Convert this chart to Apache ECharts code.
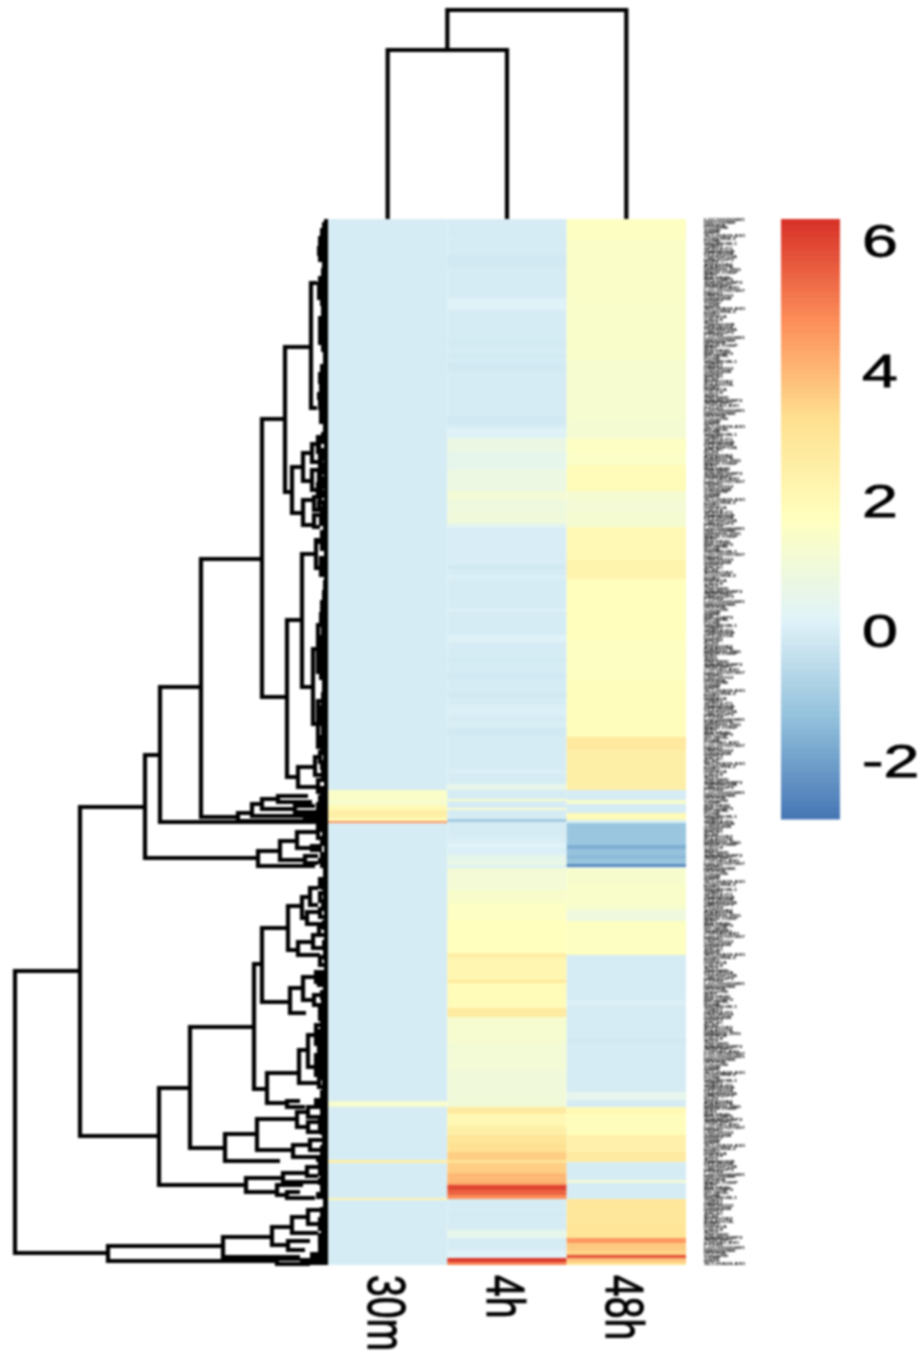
<!DOCTYPE html>
<html>
<head>
<meta charset="utf-8">
<style>
html,body{margin:0;padding:0;background:#fff}
#main{width:921px;height:1357px;filter:blur(0.8px)}
</style>
<script src="https://cdn.jsdelivr.net/npm/echarts@6/dist/echarts.min.js"></script>
</head>
<body>
<div id="main"></div>
<script>
// Columns and legend
const columns = ['30m', '4h', '48h'];
const legendTicks = [-2, 0, 2, 4, 6];
const palette = ['#4575B4', '#91BFDB', '#E0F3F8', '#FFFFBF', '#FEE090', '#FC8D59', '#D73027'];
const valueMin = -2.88, valueMax = 6.34, legendSteps = 100;
const rowSpan = 1046;

// Heatmap values, run-length coded along the clustered row order: [end position, value]
const runs30m = [[571,0],[580,1.5],[586,1.35],[591,2],[599,2.5],[602,1.9],[604,4.6],[882,0],[888,1.3],[941,0],[944,2.5],[979,0],[981,2.3],[1046,0]];
const runs4h = [[14,0],[17,-.05],[36,0],[48,-.1],[79,0],[91,.15],[121,0],[127,-.08],[135,0],[139,-.08],[144,0],[153,-.1],[197,0],[205,-.1],[209,0],[219,.15],[233,.75],[251,.55],[272,.8],[281,1.15],[294,.9],[304,1],[308,.5],[346,.03],[350,-.1],[356,0],[360,.1],[389,0],[393,.1],[416,0],[423,.15],[439,0],[443,-.08],[454,0],[461,-.1],[473,0],[479,-.1],[486,0],[497,.1],[503,0],[509,.05],[517,-.1],[551,0],[554,.1],[565,0],[571,.6],[580,0],[582,1.4],[589,0],[591,1.3],[600,0],[603,-1],[618,0],[624,.05],[628,.2],[636,.1],[644,.55],[646,.9],[649,.1],[671,1.15],[684,1.4],[701,1.6],[734,1.75],[739,2.5],[761,2.2],[764,2.8],[789,1.95],[798,2.75],[824,1.3],[851,1.1],[881,1],[888,1.05],[895,2.7],[907,2.1],[916,2.5],[924,3],[933,3.2],[941,3.6],[944,3],[954,3.6],[963,4],[966,4.3],[971,6],[976,5.5],[980,4.8],[994,0],[997,-.05],[1011,0],[1019,.55],[1031,0],[1039,.15],[1043,6.2],[1046,5]];
const runs48h = [[21,1.65],[81,1.5],[141,1.45],[201,1.3],[219,1.2],[233,1.6],[246,1.55],[272,1.95],[281,1.25],[294,1.15],[308,1.25],[341,2.05],[360,2.3],[421,1.8],[461,1.65],[518,1.85],[531,2.8],[571,2.5],[581,0],[585,1.4],[594,0],[601,2],[604,.05],[626,-1.15],[630,-1.7],[636,-1.25],[640,-1.45],[645,-1.2],[648,-2.4],[649,.05],[666,1.35],[686,1.45],[691,1.35],[702,.9],[736,1.65],[781,0],[786,.1],[819,0],[824,-.1],[873,0],[881,.5],[888,0],[895,2.05],[916,1.85],[933,2.4],[943,2.7],[961,0],[964,1.1],[980,0],[1006,2.9],[1019,3],[1024,4.6],[1031,3.7],[1036,3.5],[1039,5.8],[1043,3.8],[1046,3.2]];

// Row dendrogram merges: [height, top position, bottom position, top child height, bottom child height]
const rowMerges = [
[313,752,1034,248,220],[248,588,917,183,169],[183,536,639,168,70],[168,468,603,127,0],[127,340,598,66,90],
[66,200,478,43,41],[43,128,273,17,36],[17,64,189,11,11],[36,248,294,25,25],[25,234,262,16,16],
[16,225,243,10,8],[16,251,271,8,10],[10,218,233,5,4],[8,236,249,3,3],[8,251,263,4,4],[10,265,277,4,4],
[25,281,306,14,14],[14,278,291,8,6],[14,296,308,8,8],[8,273,284,3,3],[6,289,295,2,2],
[41,401,558,26,30],[26,335,468,12,15],[12,321,349,6,7],[6,313,330,2,2],[7,339,356,3,3],
[15,430,505,10,10],[10,406,453,5,5],[10,482,528,5,5],[30,548,568,13,10],[13,538,556,8,6],[10,561,573,3,3],[8,533,543,3,3],
[90,594,602,76,0],[76,585,597,66,23],[66,580,590,50,33],[50,577,583,20,16],[33,587,593,13,10],[23,595,599,10,8],
[70,632,647,48,13],[48,622,641,31,23],[31,613,629,10,16],[23,637,644,10,10],[10,607,619,3,3],[16,627,631,6,6],
[169,869,966,138,82],[138,808,929,74,103],[74,745,870,66,61],[66,709,783,40,38],[40,687,731,26,30],[26,678,699,18,21],
[18,669,686,10,10],[21,693,705,6,6],[30,723,736,15,8],[15,716,729,6,6],[38,769,794,25,22],[25,758,781,12,14],[12,753,763,4,4],[14,776,786,4,4],
[61,854,884,29,41],[29,831,864,20,8],[20,816,848,12,12],[12,806,825,6,6],[12,836,856,6,6],[41,882,888,28,23],
[103,915,942,71,48],[71,900,931,31,35],[31,893,908,20,18],[35,926,938,18,8],[18,921,931,6,6],[20,903,913,6,6],[20,888,898,8,8],
[82,959,973,45,51],[45,954,963,21,8],[21,948,957,6,10],[51,966,976,25,41],[41,973,979,28,13],
[220,1027,1042,105,51],[105,1018,1038,56,28],[56,1008,1026,36,40],[36,998,1014,20,10],[20,991,1005,8,6],[40,1022,1031,18,23],[51,1040,1045,28,18],
[9,222,231,3,3],[7,240,247,3,3],[9,254,262,3,3],[7,268,276,3,3],[9,283,290,3,3],[7,298,305,3,3],[8,660,668,3,3],[8,674,682,3,3],[8,690,698,3,3],[9,708,716,4,4],[8,738,746,3,3],[9,756,766,3,3],[8,790,800,3,3],[9,812,822,3,3],[9,828,838,3,3],[8,842,852,3,3],[9,858,868,3,3],[8,1000,1010,3,3],[8,1016,1024,3,3],[8,900,910,3,3],[8,945,955,3,3]
];

// Dense leaf fringe of the row dendrogram: [end position, leaf height]
const leafRuns = [[3,4],[9,6],[17,8],[27,10],[37,11],[43,10],[49,6],[57,7],[63,10],[81,11],[87,8],[97,7],[111,10],[126,10],[133,7],[145,5],[153,8],[165,10],[173,9],[181,11],[191,10],[205,9],[213,5],[218,7],[225,7],[231,4],[237,6],[243,4],[251,7],[257,4],[265,6],[271,4],[278,7],[285,4],[291,6],[299,4],[306,5],[313,5],[319,7],[325,10],[331,6],[337,4],[343,7],[349,9],[355,8],[361,4],[371,5],[381,6],[393,8],[406,9],[416,7],[429,8],[441,10],[451,10],[461,9],[473,6],[486,7],[497,8],[507,9],[516,7],[526,9],[536,8],[543,5],[551,8],[559,7],[567,4],[576,8],[583,10],[591,12],[599,10],[603,10],[607,4],[613,8],[619,6],[627,8],[633,4],[639,8],[645,10],[649,8],[661,5],[671,7],[681,5],[691,7],[701,4],[711,6],[721,4],[731,6],[741,5],[751,4],[761,7],[771,5],[781,8],[791,7],[801,6],[811,8],[821,10],[831,8],[841,10],[851,8],[861,9],[871,6],[879,8],[887,14],[896,8],[906,10],[916,8],[926,6],[936,8],[943,12],[951,8],[959,8],[966,10],[973,8],[980,12],[988,5],[996,8],[1006,8],[1016,7],[1026,8],[1033,10],[1039,18],[1043,28],[1046,24]];

// Column dendrogram merges: [height, left position, right position, left child height, right child height]
const columnMerges = [[169,0,1,0,0],[209,0.5,2,169,0]];

// Row labels are illegible in the reference; these stand in for their texture
const rowLabelWords = ['LOC100293481','ATP6V1B2','SLC25A24-AS1','RPL13AP5','ZNF385D','TMEM106B','LINC00152','HIST1H2BK','KIAA0319L','CCDC88A.2','MT-ND4L','ANKRD36BP2','PPP1R15A','GADD45B','NFKBIA','MIR4435-2HG','EGR1','FOSB','SERPINE1','TNFRSF12A','DUSP1','C11orf96','RNU6-1189P','HSPA1A','SNORD3B-1','CYP1B1-AS1','UBE2Q2P2','ARL4C','TXNIP','IER3','CXCL8','THBS1','LOC101927497','PTGS2','KLF6','MAFF','BHLHE40','ATF3','SPRY4-IT1','NR4A1'];
const rowLabelCount = 400;
const rowLabels = [];
for (let i = 0; i < rowLabelCount; i++) rowLabels.push(rowLabelWords[(i * 7 + (i >> 3)) % rowLabelWords.length]);

function heatData() {
  const out = [];
  [runs30m, runs4h, runs48h].forEach((runs, c) => {
    let start = 0;
    runs.forEach(r => { out.push([c, start, r[0], r[1]]); start = r[0]; });
  });
  return out;
}
function leafData() {
  const out = []; let start = 0;
  leafRuns.forEach(r => { out.push([r[1], start, r[0]]); start = r[0]; });
  return out;
}
function legendData() {
  const out = [], step = (valueMax - valueMin) / legendSteps;
  for (let i = 0; i < legendSteps; i++) {
    const lo = valueMin + i * step;
    out.push([0.5, lo, lo + step, lo + step / 2]);
  }
  return out;
}

function bandRect(params, api) {
  const a = api.coord([api.value(0), api.value(1)]);
  const b = api.coord([api.value(0), api.value(2)]);
  const w = api.size([1, 0])[0];
  return { type: 'rect', shape: { x: a[0] - w / 2, y: Math.min(a[1], b[1]), width: w, height: Math.abs(b[1] - a[1]) },
    style: { fill: api.visual('color') } };
}
function rowBracket(params, api) {
  const h = api.value(0), t = api.value(1), b = api.value(2), ht = api.value(3), hb = api.value(4);
  return { type: 'polyline', shape: { points: [api.coord([ht, t]), api.coord([h, t]), api.coord([h, b]), api.coord([hb, b])] },
    style: { stroke: '#000', lineWidth: 4.2, fill: 'none', lineJoin: 'miter' } };
}
function leafRect(params, api) {
  const a = api.coord([api.value(0), api.value(1)]);
  const b = api.coord([0, api.value(2)]);
  return { type: 'rect', shape: { x: a[0], y: a[1], width: b[0] - a[0], height: b[1] - a[1] }, style: { fill: '#000' } };
}
function columnBracket(params, api) {
  const h = api.value(0), l = api.value(1), r = api.value(2), hl = api.value(3), hr = api.value(4);
  return { type: 'polyline', shape: { points: [api.coord([l, hl]), api.coord([l, h]), api.coord([r, h]), api.coord([r, hr])] },
    style: { stroke: '#000', lineWidth: 4.2, fill: 'none', lineJoin: 'miter' } };
}
function legendLabel(params, api) {
  const p = api.coord([1, api.value(1)]);
  return { type: 'text', x: p[0] + 22, y: p[1] + 3, scaleX: 1.4,
    style: { text: String(legendTicks[params.dataIndex]), fontSize: 46, fontFamily: 'Liberation Sans', fill: '#000', stroke: '#000', lineWidth: 0.8, align: 'left', verticalAlign: 'middle' } };
}
function columnLabel(params, api) {
  const p = api.coord([api.value(0), api.value(1)]);
  return { type: 'text', x: p[0] - 5, y: p[1] + 10, rotation: -Math.PI / 2, scaleY: 1.38,
    style: { text: columns[params.dataIndex], fontSize: 39, fontFamily: 'Liberation Sans', fill: '#000', stroke: '#000', lineWidth: 0.8, align: 'left', verticalAlign: 'middle' } };
}
function rowLabel(params, api) {
  const p = api.coord([0, api.value(1)]);
  return { type: 'text', x: p[0], y: p[1], scaleX: 1.6,
    style: { text: rowLabels[params.dataIndex], fontSize: 3.6, fontWeight: 'bold', fontFamily: 'Liberation Sans', fill: '#000', align: 'left', verticalAlign: 'middle' } };
}

const chart = echarts.init(document.getElementById('main'), null, { renderer: 'canvas' });
chart.setOption({
  animation: false,
  backgroundColor: '#fff',
  grid: [
    { left: 328, top: 219, width: 358, height: rowSpan },
    { left: 0, top: 219, width: 328, height: rowSpan },
    { left: 328, top: 0, width: 358, height: 219 },
    { left: 781, top: 219, width: 59, height: 600 },
    { left: 704, top: 219, width: 40, height: rowSpan }
  ],
  xAxis: [
    { gridIndex: 0, type: 'category', data: columns, axisLine: { show: false }, axisTick: { show: false }, axisLabel: { show: false } },
    { gridIndex: 1, type: 'value', min: 0, max: 328, inverse: true, show: false },
    { gridIndex: 2, type: 'value', min: -0.5, max: 2.5, show: false },
    { gridIndex: 3, type: 'value', min: 0, max: 1, show: false },
    { gridIndex: 4, type: 'value', min: 0, max: 1, show: false }
  ],
  yAxis: [
    { gridIndex: 0, type: 'value', min: 0, max: rowSpan, inverse: true, show: false },
    { gridIndex: 1, type: 'value', min: 0, max: rowSpan, inverse: true, show: false },
    { gridIndex: 2, type: 'value', min: 0, max: 219, show: false },
    { gridIndex: 3, type: 'value', min: valueMin, max: valueMax, position: 'right', splitLine: { show: false },
      axisLine: { show: false }, axisTick: { show: false }, axisLabel: { show: false } },
    { gridIndex: 4, type: 'category', data: rowLabels, inverse: true, show: false }
  ],
  visualMap: { show: false, type: 'continuous', min: valueMin, max: valueMax, dimension: 3, seriesIndex: [0, 4], inRange: { color: palette } },
  series: [
    { type: 'custom', name: 'heatmap', xAxisIndex: 0, yAxisIndex: 0, data: heatData(), renderItem: bandRect, silent: true, encode: { x: 0, y: [1, 2] } },
    { type: 'custom', name: 'leaves', xAxisIndex: 1, yAxisIndex: 1, data: leafData(), renderItem: leafRect, silent: true, encode: { x: 0, y: [1, 2] } },
    { type: 'custom', name: 'rowTree', xAxisIndex: 1, yAxisIndex: 1, data: rowMerges, renderItem: rowBracket, silent: true, encode: { x: 0, y: [1, 2] } },
    { type: 'custom', name: 'columnTree', xAxisIndex: 2, yAxisIndex: 2, data: columnMerges, renderItem: columnBracket, silent: true, encode: { x: [1, 2], y: 0 } },
    { type: 'custom', name: 'legend', xAxisIndex: 3, yAxisIndex: 3, data: legendData(), renderItem: function (params, api) {
        const a = api.coord([0, api.value(1)]), b = api.coord([1, api.value(2)]);
        return { type: 'rect', shape: { x: a[0], y: b[1], width: b[0] - a[0], height: a[1] - b[1] + 0.5 }, style: { fill: api.visual('color') } };
      }, silent: true, encode: { x: 0, y: [1, 2] } },
    { type: 'custom', name: 'legendLabels', xAxisIndex: 3, yAxisIndex: 3, data: legendTicks.map(v => [1, v]), renderItem: legendLabel, silent: true, encode: { x: 0, y: 1 } },
    { type: 'custom', name: 'columnLabels', xAxisIndex: 0, yAxisIndex: 0, data: columns.map((c, i) => [i, rowSpan]), renderItem: columnLabel, silent: true, encode: { x: 0, y: 1 } },
    { type: 'custom', name: 'rowLabels', xAxisIndex: 4, yAxisIndex: 4, data: rowLabels.map((c, i) => [0, i]), renderItem: rowLabel, silent: true, encode: { x: 0, y: 1 } }
  ]
});
</script>
</body>
</html>
